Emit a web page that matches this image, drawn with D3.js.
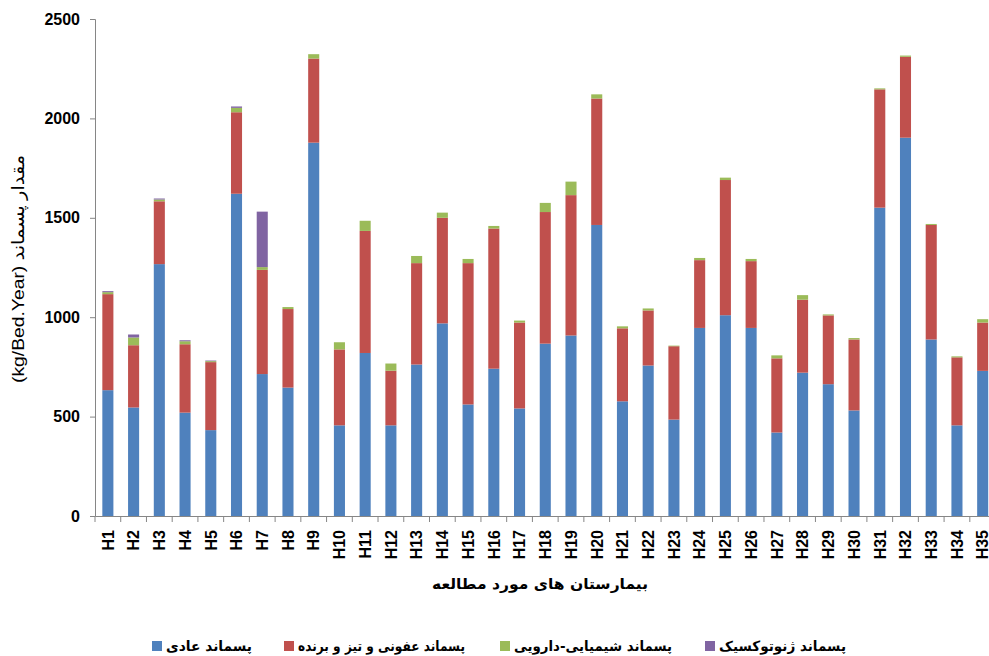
<!DOCTYPE html>
<html>
<head>
<meta charset="utf-8">
<script src="https://cdn.jsdelivr.net/npm/d3@7"></script>
<style>
  body { margin: 0; background: #fff; }
  svg { display: block; font-family: "Liberation Sans", "DejaVu Sans", sans-serif; }
</style>
</head>
<body>
<svg id="chart"></svg>
<script>
// hospitals H1..H35
const hospitals = ["H1","H2","H3","H4","H5","H6","H7","H8","H9","H10","H11","H12","H13","H14","H15","H16","H17","H18",
  "H19","H20","H21","H22","H23","H24","H25","H26","H27","H28","H29","H30","H31","H32","H33","H34","H35"];

// kg/Bed.Year
const general = [633,546,1267,520,432,1621,714,646,1878,456,820,456,762,969,561,741,541,867,
  908,1464,577,757,485,946,1010,946,420,721,663,531,1551,1903,888,456,730];
const infectious = [483,313,316,344,342,410,524,395,423,382,614,275,510,531,711,705,432,662,
  706,636,367,277,369,341,680,336,373,367,346,357,595,407,576,342,243];
const chemical = [10,39,9,15,5,22,14,10,22,36,51,36,36,26,21,13,10,46,
  68,21,10,10,3,11,12,11,15,23,5,7,5,6,5,5,17];
const genotoxic = [5,15,5,5,3,7,279,0,0,0,0,0,0,0,0,0,0,0,
  0,0,0,0,0,0,0,0,0,0,0,0,0,0,0,0,0];

const seriesKeys = ["general", "infectious", "chemical", "genotoxic"];
const seriesNames = ["پسماند عادی", "پسماند عفونی و تیز و برنده", "پسماند شیمیایی-دارویی", "پسماند ژنوتوکسیک"];
const seriesColors = ["#4f81bd", "#c0504d", "#9bbb59", "#8064a2"];
const yTicks = [0, 500, 1000, 1500, 2000, 2500];

class StackedBar {

  constructor(_config, _data) {
    this.config = {
      parentElement: _config.parentElement,
      containerWidth: _config.containerWidth || 989,
      containerHeight: _config.containerHeight || 656
    }
    this.data = _data;
    this.initVis();
  }

  initVis() {
    let vis = this;

    vis.svg = d3.select(vis.config.parentElement)
        .attr('width', vis.config.containerWidth)
        .attr('height', vis.config.containerHeight);

    // plot area: y axis at x=95, baseline at y=516 (chart runs off the right edge)
    vis.left = 95;
    vis.bottom = 516;
    vis.top = 19;

    vis.xScale = d3.scaleBand()
        .domain(hospitals)
        .range([vis.left, vis.left + 35 * 25.73])
        .paddingInner(0.57)
        .paddingOuter(0.285);

    vis.yScale = d3.scaleLinear()
        .domain([0, 2500])
        .range([vis.bottom, vis.top]);

    vis.stack = d3.stack().keys(seriesKeys)(vis.data);
    vis.color = d3.scaleOrdinal().domain(seriesKeys).range(seriesColors);

    vis.renderVis();
  }

  renderVis() {
    let vis = this;

    // stacked bars
    vis.svg.append('g').selectAll('g')
        .data(vis.stack)
        .join('g')
        .attr('fill', d => vis.color(d.key))
        .selectAll('rect')
        .data(d => d)
        .join('rect')
        .attr('x', d => vis.xScale(d.data.name))
        .attr('y', d => vis.yScale(d[1]))
        .attr('width', vis.xScale.bandwidth())
        .attr('height', d => Math.max(0, vis.yScale(d[0]) - vis.yScale(d[1])));

    // y axis
    const yAxisG = vis.svg.append('g')
        .attr('transform', `translate(${vis.left},0)`)
        .call(d3.axisLeft(vis.yScale).tickValues(yTicks).tickSize(5).tickPadding(10).tickFormat(d3.format('d')));
    yAxisG.selectAll('line, path').attr('stroke', '#868686');
    yAxisG.selectAll('text')
        .style('font-family', '"Liberation Sans", sans-serif')
        .style('font-size', '16px')
        .style('font-weight', 'bold')
        .attr('fill', '#000');

    // x axis: line plus ticks at band edges
    const xAxisG = vis.svg.append('g')
        .attr('transform', `translate(0,${vis.bottom})`)
        .call(d3.axisBottom(vis.xScale).tickSize(0).tickPadding(0));
    xAxisG.select('.domain').attr('stroke', '#868686');
    xAxisG.selectAll('text')
        .attr('transform', 'rotate(-90)')
        .attr('x', -14)
        .attr('y', 0)
        .attr('dy', '0.36em')
        .style('text-anchor', 'end')
        .style('font-family', '"Liberation Sans", sans-serif')
        .style('font-size', '16px')
        .style('font-weight', 'bold')
        .attr('fill', '#000');

    const step = vis.xScale.step();
    const edges = hospitals.map((h, i) => vis.xScale.range()[0] + i * step).concat([vis.xScale.range()[1]]);
    xAxisG.selectAll('.edge')
        .data(edges)
        .join('line')
        .attr('class', 'edge')
        .attr('x1', d => d).attr('x2', d => d)
        .attr('y1', 0).attr('y2', 6)
        .attr('stroke', '#868686');

    // axis titles
    vis.svg.append('text')
        .attr('x', 540)
        .attr('y', 589)
        .style('text-anchor', 'middle')
        .style('font-family', '"DejaVu Sans", sans-serif')
        .style('font-size', '15px')
        .style('font-weight', 'bold')
        .attr('direction', 'rtl')
        .attr('textLength', 216)
        .attr('lengthAdjust', 'spacingAndGlyphs')
        .text('بیمارستان های مورد مطالعه');

    vis.svg.append('text')
        .attr('transform', 'translate(24,269) rotate(-90)')
        .style('text-anchor', 'middle')
        .style('font-size', '17px')
        .attr('textLength', 228)
        .attr('lengthAdjust', 'spacingAndGlyphs')
        .text('(kg/Bed.Year)  مقدار پسماند');

    // legend
    const legendX = [152, 284, 500, 705];
    const legendLen = [86, 167, 158, 127];
    const legend = vis.svg.append('g').selectAll('g')
        .data(seriesNames)
        .join('g')
        .attr('transform', (d, i) => `translate(${legendX[i]},641)`);
    legend.append('rect')
        .attr('width', 10)
        .attr('height', 10)
        .attr('fill', (d, i) => seriesColors[i]);
    legend.append('text')
        .attr('x', 14)
        .attr('y', 10)
        .style('font-family', '"DejaVu Sans", sans-serif')
        .style('font-size', '14px')
        .style('font-weight', 'bold')
        .attr('textLength', (d, i) => legendLen[i])
        .attr('lengthAdjust', 'spacingAndGlyphs')
        .text(d => d);
  }

}

const rows = hospitals.map((name, i) => ({
  name: name,
  general: general[i],
  infectious: infectious[i],
  chemical: chemical[i],
  genotoxic: genotoxic[i]
}));

new StackedBar({ parentElement: '#chart' }, rows);
</script>
</body>
</html>
